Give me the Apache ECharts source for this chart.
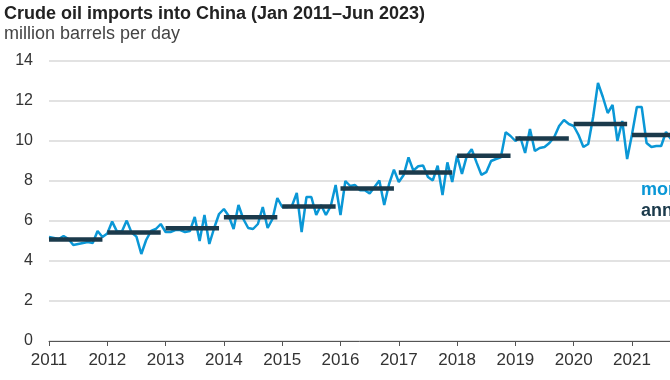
<!DOCTYPE html>
<html>
<head>
<meta charset="utf-8">
<script src="https://cdn.jsdelivr.net/npm/echarts@6/dist/echarts.min.js"></script>
<style>
html,body{margin:0;padding:0;background:#fff;}
#chart{width:670px;height:380px;}
</style>
</head>
<body>
<div id="chart"></div>
<script>
// ---- data (million barrels per day) ----
const years = [2011, 2012, 2013, 2014, 2015, 2016, 2017, 2018, 2019, 2020, 2021];
const monthly2011 = [5.2, 5.15, 5.1, 5.25, 5.1, 4.8, 4.85, 4.9, 4.95, 4.9, 5.5, 5.2];
const monthly2012 = [5.38, 5.97, 5.47, 5.47, 6.02, 5.42, 5.22, 4.35, 5.05, 5.5, 5.6, 5.85];
const monthly2013 = [5.45, 5.45, 5.55, 5.55, 5.45, 5.5, 6.2, 5.0, 6.3, 4.85, 5.65, 6.35];
const monthly2014 = [6.6, 6.25, 5.6, 6.8, 6.1, 5.65, 5.6, 5.85, 6.7, 5.65, 6.1, 7.15];
const monthly2015 = [6.7, 6.7, 6.75, 7.4, 5.45, 7.2, 7.2, 6.3, 6.8, 6.3, 6.75, 7.8];
const monthly2016 = [6.3, 8.0, 7.75, 7.8, 7.54, 7.54, 7.38, 7.7, 8.03, 6.8, 7.85, 8.57];
const monthly2017 = [7.95, 8.3, 9.18, 8.52, 8.74, 8.77, 8.2, 8.03, 8.77, 7.3, 8.93, 7.95];
const monthly2018 = [9.26, 8.36, 9.26, 9.59, 8.93, 8.31, 8.44, 9.0, 9.1, 9.18, 10.44, 10.25];
const monthly2019 = [10.0, 10.2, 9.4, 10.6, 9.5, 9.65, 9.7, 9.9, 10.2, 10.75, 11.05, 10.85];
const monthly2020 = [10.75, 10.3, 9.7, 9.85, 11.2, 12.9, 12.2, 11.4, 11.8, 10.0, 11.0, 9.1];
const monthly2021 = [10.33, 11.7, 11.7, 9.9, 9.7, 9.75, 9.75, 10.45, 10.1];
const annualAverage = [5.08, 5.42, 5.64, 6.19, 6.73, 7.63, 8.42, 9.26, 10.12, 10.85, 10.3];
const yTicks = [0, 2, 4, 6, 8, 10, 12, 14];
const xTickLabels = years;

const monthlyByYear = [monthly2011, monthly2012, monthly2013, monthly2014, monthly2015,
  monthly2016, monthly2017, monthly2018, monthly2019, monthly2020, monthly2021];

// build [x, y] pairs: x = year + month/12
const monthlyData = [];
monthlyByYear.forEach((arr, i) => {
  arr.forEach((v, m) => monthlyData.push([years[i] + m / 12, v]));
});

const BLUE = '#0a97d6';
const DARK = '#1b3a4b';

const annualSeries = years.map((y, i) => ({
  type: 'line',
  name: 'annual average',
  data: [[y, annualAverage[i]], [y + 11 / 12, annualAverage[i]]],
  symbol: 'none',
  lineStyle: { color: DARK, width: 4.5, cap: 'butt' },
  z: 5,
  silent: true,
  animation: false
}));

const chart = echarts.init(document.getElementById('chart'), null, { renderer: 'canvas' });
chart.setOption({
  animation: false,
  backgroundColor: '#ffffff',
  textStyle: { fontFamily: 'Liberation Sans, Arial, sans-serif' },
  grid: { left: 49, right: 0, top: 61, bottom: 39, containLabel: false },
  xAxis: {
    type: 'value',
    min: 2011,
    max: 2021.652,
    interval: 1,
    axisLine: { show: true, lineStyle: { color: '#555555', width: 1 } },
    axisTick: { show: true, length: 5, lineStyle: { color: '#555555' }, customValues: xTickLabels },
    axisLabel: {
      customValues: xTickLabels,
      formatter: v => (Number.isInteger(v) ? String(v) : ''),
      color: '#333333', fontSize: 17, margin: 11,
      fontFamily: 'Liberation Sans, Arial, sans-serif'
    },
    splitLine: { show: false }
  },
  yAxis: {
    type: 'value',
    min: yTicks[0],
    max: yTicks[yTicks.length - 1],
    interval: 2,
    axisLine: { show: false },
    axisTick: { show: false },
    axisLabel: { color: '#333333', fontSize: 16, margin: 16, fontFamily: 'Liberation Sans, Arial, sans-serif' },
    splitLine: { show: true, lineStyle: { color: '#d9d9d9', width: 1.5 } }
  },
  series: [{
    type: 'line',
    name: 'monthly',
    data: monthlyData,
    symbol: 'none',
    lineStyle: { color: BLUE, width: 2.5 },
    z: 3,
    silent: true,
    animation: false
  }].concat(annualSeries),
  graphic: [
    { type: 'text', left: 4, top: 5,
      style: { text: 'Crude oil imports into China (Jan 2011\u2013Jun 2023)', fill: '#222222',
               font: 'bold 18px "Liberation Sans", Arial, sans-serif' } },
    { type: 'text', left: 4, top: 25,
      style: { text: 'million barrels per day', fill: '#444444',
               font: '18px "Liberation Sans", Arial, sans-serif' } },
    { type: 'text', left: 641, top: 181,
      style: { text: 'monthly', fill: BLUE,
               font: 'bold 18px "Liberation Sans", Arial, sans-serif' } },
    { type: 'text', left: 641, top: 202,
      style: { text: 'annual average', fill: DARK,
               font: 'bold 18px "Liberation Sans", Arial, sans-serif' } }
  ]
});
</script>
</body>
</html>
